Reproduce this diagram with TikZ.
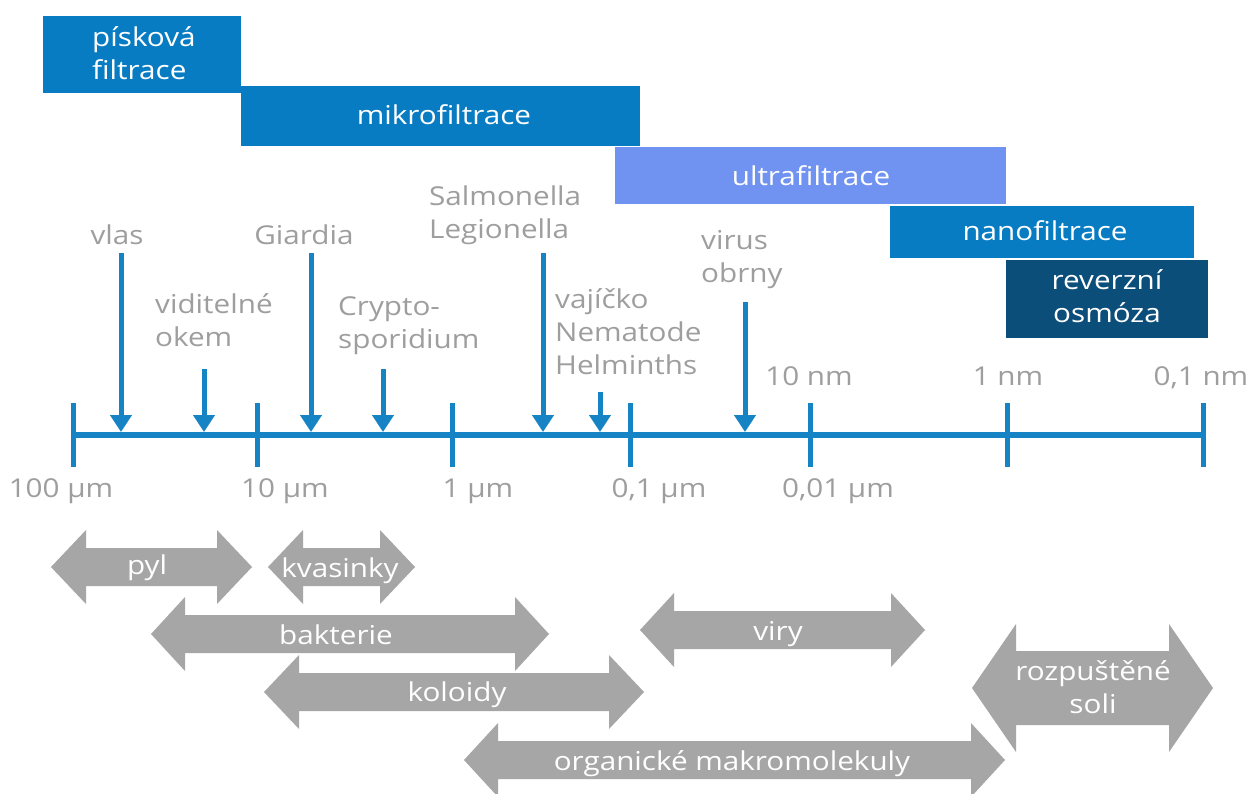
\documentclass[tikz,border=0pt]{standalone}
\usepackage{fontspec}
\setmainfont{Open Sans}[FakeStretch=1.14]
\usetikzlibrary{arrows.meta}
\definecolor{fblue}{RGB}{8,124,194}
\definecolor{ublue}{RGB}{112,146,240}
\definecolor{dblue}{RGB}{12,78,122}
\definecolor{axblue}{RGB}{22,132,196}
\definecolor{gtext}{RGB}{158,158,158}
\definecolor{garrow}{RGB}{166,166,166}
% #1 left tip x, #2 right tip x, #3 centre y, #4 head length, #5 head half height, #6 body half height
\newcommand{\dblarr}[6]{%
  \fill[garrow] (#1,#3) -- ({#1+#4},{#3-#5}) -- ({#1+#4},{#3-#6}) -- ({#2-#4},{#3-#6})
    -- ({#2-#4},{#3-#5}) -- (#2,#3) -- ({#2-#4},{#3+#5}) -- ({#2-#4},{#3+#6})
    -- ({#1+#4},{#3+#6}) -- ({#1+#4},{#3+#5}) -- cycle;}
\begin{document}
\begin{tikzpicture}[x=1pt,y=-1pt,
  font=\fontsize{26}{33}\selectfont,
  filt/.style={fill=#1, inner sep=0pt, draw=none},
  boxtext/.style={text=white, inner sep=0pt, anchor=base},
  lbl/.style={text=gtext, inner sep=0pt, align=left, anchor=base west},
  scl/.style={text=gtext, inner sep=0pt, anchor=base},
  artext/.style={text=white, inner sep=0pt, anchor=base, align=center},
  ptr/.style={draw=axblue, line width=5pt, -{Triangle[width=21pt,length=17pt]}},
  axisline/.style={draw=axblue, line width=6pt},
  tick/.style={draw=axblue, line width=5pt}]
\useasboundingbox (0,0) rectangle (1253,793);
\fill[white] (0,0) rectangle (1253,793);

% filtration boxes
\node[filt=fblue, minimum width=198pt, minimum height=77pt] (pisk) at (142,54.5) {};
\node[filt=fblue, minimum width=399pt, minimum height=60pt] (mikro) at (440.5,116) {};
\node[filt=ublue, minimum width=391pt, minimum height=57pt] (ultra) at (810.5,175.5) {};
\node[filt=fblue, minimum width=304pt, minimum height=52pt] (nano) at (1042,232) {};
\node[filt=dblue, minimum width=202pt, minimum height=78pt] (ro) at (1107,299) {};
\node[text=white, inner sep=0pt, align=left, anchor=base west] (piskT) at (92,79) {písková\\filtrace};
\node[boxtext] (mikroT) at (444,124) {mikrofiltrace};
\node[boxtext] (ultraT) at (811,185) {ultrafiltrace};
\node[boxtext] (nanoT) at (1045,240) {nanofiltrace};
\node[boxtext, align=center] (roT) at (1107,322) {reverzní\\osmóza};

% axis
\coordinate (axL) at (73,435);
\coordinate (axR) at (1202,435);
\draw[axisline] (axL) -- (axR);
\foreach \x [count=\i] in {73,257,452,630,810,1007,1203}{
  \coordinate (tT\i) at (\x,403);
  \coordinate (tB\i) at (\x,467);
  \draw[tick] (tT\i) -- (tB\i);
}

% scale labels
\node[scl] (s1) at (61,497) {100 µm};
\node[scl] (s2) at (285,497) {10 µm};
\node[scl] (s3) at (478,497) {1 µm};
\node[scl] (s4) at (659,497) {0,1 µm};
\node[scl] (s5) at (838,497) {0,01 µm};
\node[scl] (s6) at (809,385) {10 nm};
\node[scl] (s7) at (1008,385) {1 nm};
\node[scl] (s8) at (1201,385) {0,1 nm};

% object labels
\node[scl] (vlas) at (117,244) {vlas};
\node[scl] (giardia) at (304,244) {Giardia};
\node[lbl] (vidit) at (155,346) {viditelné\\okem};
\node[lbl] (crypto) at (338,348) {Crypto-\\sporidium};
\node[lbl] (salm) at (429,238) {Salmonella\\Legionella};
\node[lbl] (vaj) at (555,374) {vajíčko\\Nematode\\Helminths};
\node[lbl] (virus) at (701,282) {virus\\obrny};

% pointers
\foreach \n/\x/\y in {a/121/253, b/204/369, c/311/253, d/383/369, e/543/253, f/600/392, g/745/302}{
  \coordinate (p\n S) at (\x,\y);
  \coordinate (p\n E) at (\x,432);
  \draw[ptr] (p\n S) -- (p\n E);
}

% grey range arrows
\dblarr{51}{252}{567}{35}{37}{19}
\dblarr{268}{415}{567}{35}{37}{19}
\dblarr{151}{549}{634}{34}{37}{19}
\dblarr{264}{644}{692}{35}{37}{19}
\dblarr{640}{925}{630}{34}{37}{19}
\dblarr{464}{1005}{760}{34}{37}{19}
\dblarr{972}{1213}{688}{44}{64}{37}
\node[artext] (pyl) at (147,574) {pyl};
\node[artext] (kvas) at (340,577) {kvasinky};
\node[artext] (bakt) at (336,644) {bakterie};
\node[artext] (kol) at (457,701) {koloidy};
\node[artext] (viry) at (778,640) {viry};
\node[artext] (org) at (732,770) {organické makromolekuly};
\node[artext] (soli) at (1093,713) {rozpuštěné\\soli};
\end{tikzpicture}
\end{document}
